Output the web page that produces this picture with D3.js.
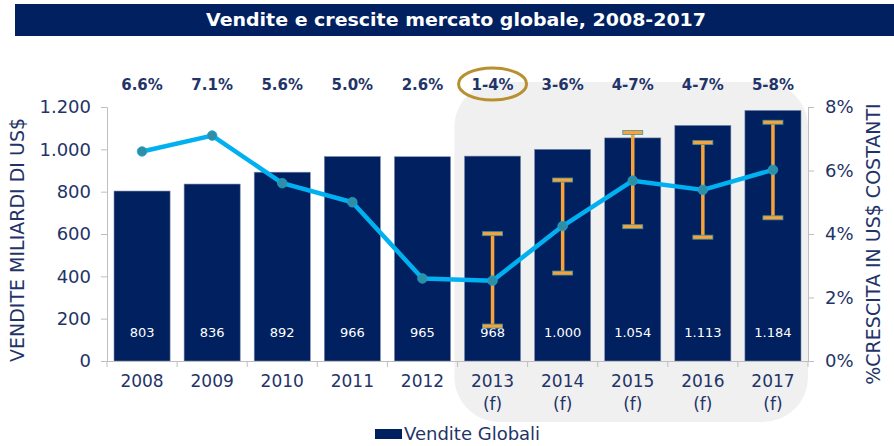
<!DOCTYPE html>
<html>
<head>
<meta charset="utf-8">
<script src="https://cdn.jsdelivr.net/npm/d3@7"></script>
<style>
  html, body { margin: 0; padding: 0; background: #fff; }
  svg { display: block; font-family: "DejaVu Sans", Verdana, sans-serif; }
</style>
</head>
<body>
<svg id="chart" width="894" height="446"></svg>
<script>
// ---- data ----
const years = ["2008","2009","2010","2011","2012","2013","2014","2015","2016","2017"];
const forecast = [false,false,false,false,false,true,true,true,true,true];
const sales = [803, 836, 892, 966, 965, 968, 1000, 1054, 1113, 1184];
const growth = [6.6, 7.1, 5.6, 5.0, 2.6, 2.53, 4.25, 5.68, 5.39, 6.02];
const errLow  = [null, null, null, null, null, 1.1, 2.77, 4.23, 3.9, 4.51];
const errHigh = [null, null, null, null, null, 4.01, 5.7, 7.2, 6.88, 7.52];
const topLabels = ["6.6%","7.1%","5.6%","5.0%","2.6%","1-4%","3-6%","4-7%","4-7%","5-8%"];
const leftTicks = [0, 200, 400, 600, 800, 1000, 1200];
const rightTicks = [0, 2, 4, 6, 8];
const circledIndex = 5;

const title = "Vendite e crescite mercato globale, 2008-2017";
const leftTitle = "VENDITE MILIARDI DI US$";
const rightTitle = "%CRESCITA IN US$ COSTANTI";
const legendLabel = "Vendite Globali";

// ---- styles ----
const navy = "#002060";
const textNavy = "#1F3468";
const lineBlue = "#00B0F0";
const markerTeal = "#2E8EA6";
const orange = "#F7A23A";
const gold = "#B8902F";
const axisGrey = "#BFBFBF";

const itLocale = d3.formatLocale({decimal: ",", thousands: ".", grouping: [3], currency: ["", ""]});
const fmt = itLocale.format(",d");

const svg = d3.select("#chart");
const pLeft = 107, pRight = 808, pTop = 107, pBottom = 361;

const x = d3.scaleBand().domain(years).range([pLeft, pRight]).paddingInner(0.2).paddingOuter(0.1);
const y = d3.scaleLinear().domain([0, 1200]).range([pBottom, pTop]);
const y2 = d3.scaleLinear().domain([0, 8]).range([pBottom, pTop]);

// title band
svg.append("rect").attr("x", 15).attr("y", 4).attr("width", 879).attr("height", 32).attr("fill", navy);
svg.append("text").attr("x", 456).attr("y", 26).attr("text-anchor", "middle")
  .attr("fill", "#fff").attr("font-weight", "bold").attr("font-size", 18)
  .attr("textLength", 500).attr("lengthAdjust", "spacingAndGlyphs")
  .text(title);

// grey forecast background
const fIdx = forecast.indexOf(true);
const gx0 = x(years[fIdx]) - x.step() * x.paddingInner() / 2 - 3;
svg.append("rect").attr("x", gx0).attr("y", 82).attr("width", pRight - gx0).attr("height", 340)
  .attr("rx", 45).attr("ry", 45).attr("fill", "#F0F0F0");

// bars
svg.append("g").selectAll("rect").data(years).join("rect")
  .attr("x", d => x(d)).attr("width", x.bandwidth())
  .attr("y", (d, i) => y(sales[i])).attr("height", (d, i) => y(0) - y(sales[i]))
  .attr("fill", navy).attr("stroke", "#7A8AAE").attr("stroke-width", 0.6);

// bar value labels
svg.append("g").selectAll("text").data(years).join("text")
  .attr("x", d => x(d) + x.bandwidth() / 2).attr("y", 337)
  .attr("text-anchor", "middle").attr("fill", "#fff").attr("font-size", 13)
  .text((d, i) => fmt(sales[i]));

// axes
const gl = svg.append("g").attr("transform", `translate(${pLeft},0)`)
  .call(d3.axisLeft(y).tickValues(leftTicks).tickSize(6).tickPadding(10).tickFormat(fmt));
const gr = svg.append("g").attr("transform", `translate(${pRight},0)`)
  .call(d3.axisRight(y2).tickValues(rightTicks).tickSize(6).tickPadding(11).tickFormat(d => d + "%"));
const gb = svg.append("g").attr("transform", `translate(0,${pBottom})`)
  .call(d3.axisBottom(x).tickSize(0).tickFormat(""));
[gl, gr, gb].forEach(g => {
  g.selectAll(".domain").attr("stroke", axisGrey);
  g.selectAll(".tick line").attr("stroke", axisGrey);
  g.selectAll(".tick text").attr("fill", textNavy).attr("font-size", 18)
    .attr("font-family", "DejaVu Sans, Verdana, sans-serif");
});
// category boundary ticks on bottom axis
const bounds = years.map(d => x(d) - x.step() * x.paddingInner() / 2).concat([pRight]);
bounds[0] = pLeft;
svg.append("g").selectAll("line").data(bounds).join("line")
  .attr("x1", d => d).attr("x2", d => d).attr("y1", pBottom).attr("y2", pBottom + 6)
  .attr("stroke", axisGrey);

// category labels
const cat = svg.append("g").selectAll("text").data(years).join("text")
  .attr("x", d => x(d) + x.bandwidth() / 2).attr("y", 387)
  .attr("text-anchor", "middle").attr("fill", textNavy).attr("font-size", 17);
cat.append("tspan").attr("x", d => x(d) + x.bandwidth() / 2).text(d => d);
cat.filter((d, i) => forecast[i]).append("tspan")
  .attr("x", d => x(d) + x.bandwidth() / 2).attr("dy", 23).text("(f)");

// axis titles
svg.append("text").attr("transform", `translate(24,240) rotate(-90)`)
  .attr("text-anchor", "middle").attr("fill", textNavy).attr("font-size", 19).text(leftTitle);
svg.append("text").attr("transform", `translate(880,244) rotate(-90)`)
  .attr("text-anchor", "middle").attr("fill", textNavy).attr("font-size", 19).text(rightTitle);

// top growth labels
svg.append("g").selectAll("text").data(years).join("text")
  .attr("x", d => x(d) + x.bandwidth() / 2).attr("y", 90)
  .attr("text-anchor", "middle").attr("fill", textNavy).attr("font-weight", "bold").attr("font-size", 15)
  .text((d, i) => topLabels[i]);
svg.append("ellipse")
  .attr("cx", x(years[circledIndex]) + x.bandwidth() / 2).attr("cy", 84)
  .attr("rx", 34).attr("ry", 16).attr("fill", "none").attr("stroke", gold).attr("stroke-width", 3);

// error bars
const eb = svg.append("g");
years.forEach((d, i) => {
  if (errLow[i] == null) return;
  const cx = x(d) + x.bandwidth() / 2;
  eb.append("line").attr("x1", cx).attr("x2", cx).attr("y1", y2(errLow[i])).attr("y2", y2(errHigh[i]))
    .attr("stroke", orange).attr("stroke-width", 3.5);
  [errLow[i], errHigh[i]].forEach(v => {
    eb.append("rect").attr("x", cx - 10).attr("y", y2(v) - 2).attr("width", 20).attr("height", 4)
      .attr("fill", orange).attr("stroke", "#3E97A4").attr("stroke-width", 0.8);
  });
});

// growth line
const line = d3.line().x((d, i) => x(years[i]) + x.bandwidth() / 2).y(d => y2(d));
svg.append("path").datum(growth).attr("d", line)
  .attr("fill", "none").attr("stroke", lineBlue).attr("stroke-width", 4.5).attr("stroke-linejoin", "round");
svg.append("g").selectAll("circle").data(growth).join("circle")
  .attr("cx", (d, i) => x(years[i]) + x.bandwidth() / 2).attr("cy", d => y2(d))
  .attr("r", 4.8).attr("fill", markerTeal).attr("stroke", "#1AA6D6").attr("stroke-width", 0.8);

// legend
svg.append("rect").attr("x", 375).attr("y", 429).attr("width", 27).attr("height", 10).attr("fill", navy);
svg.append("text").attr("x", 404).attr("y", 440).attr("fill", textNavy).attr("font-size", 18).text(legendLabel);
</script>
</body>
</html>
